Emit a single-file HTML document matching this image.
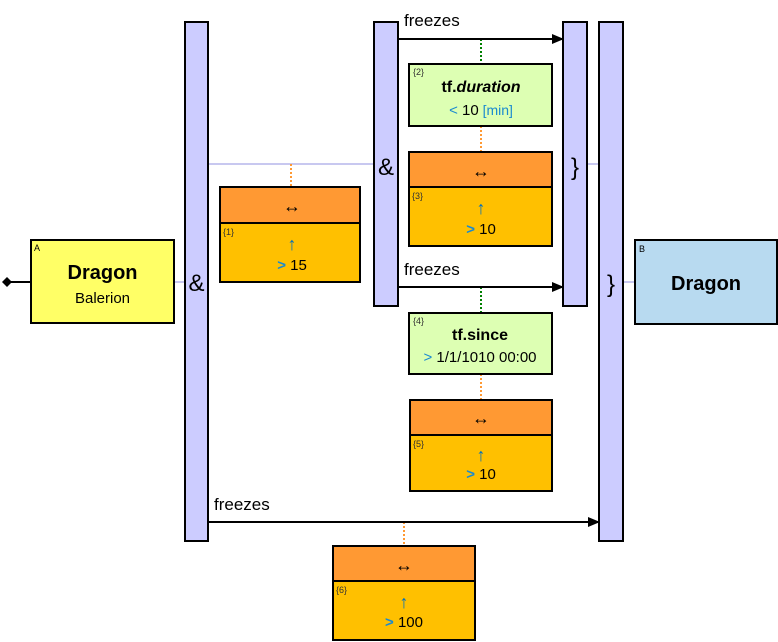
<!DOCTYPE html>
<html><head><meta charset="utf-8"><style>
html,body{margin:0;padding:0;background:#fff;width:778px;height:642px;overflow:hidden}
svg text{font-family:"Liberation Sans",sans-serif}
</style></head><body>
<svg width="778" height="642" xmlns="http://www.w3.org/2000/svg">
<defs><marker id="ah" markerWidth="12" markerHeight="10" refX="11" refY="5" orient="auto" markerUnits="userSpaceOnUse"><path d="M0,0 L12,5 L0,10 z" fill="#000"/></marker></defs>
<!-- thin connectors -->
<line x1="208" y1="164" x2="374" y2="164" stroke="#c8c8f0" stroke-width="2"/>
<line x1="587" y1="164" x2="599" y2="164" stroke="#c8c8f0" stroke-width="2"/>
<line x1="174" y1="282" x2="185" y2="282" stroke="#c8c8f0" stroke-width="2"/>
<line x1="623" y1="282" x2="635" y2="282" stroke="#c8c8f0" stroke-width="2"/>
<line x1="8" y1="282" x2="31" y2="282" stroke="#000" stroke-width="2"/>
<path d="M2,282 L7,277 L12,282 L7,287z" fill="#000"/>
<!-- dotted -->
<g stroke-width="2" stroke-dasharray="2,2">
<line x1="291" y1="164" x2="291" y2="187" stroke="#ff9933"/>
<line x1="481" y1="39" x2="481" y2="64" stroke="#008000"/>
<line x1="481" y1="126" x2="481" y2="152" stroke="#ff9933"/>
<line x1="481" y1="287" x2="481" y2="313" stroke="#008000"/>
<line x1="481" y1="374" x2="481" y2="400" stroke="#ff9933"/>
<line x1="404" y1="522" x2="404" y2="546" stroke="#ff9933"/>
</g>
<!-- bars -->
<g fill="#ccccff" stroke="#000" stroke-width="2">
<rect x="185" y="22" width="23" height="519"/>
<rect x="374" y="22" width="24" height="284"/>
<rect x="563" y="22" width="24" height="284"/>
<rect x="599" y="22" width="24" height="519"/>
</g>
<text x="196.5" y="291" font-size="24" text-anchor="middle">&amp;</text>
<text x="386" y="175" font-size="24" text-anchor="middle">&amp;</text>
<text x="575" y="175" font-size="24" text-anchor="middle">}</text>
<text x="611" y="292" font-size="24" text-anchor="middle">}</text>
<!-- arrows -->
<g stroke="#000" stroke-width="2">
<line x1="398" y1="39" x2="563" y2="39" marker-end="url(#ah)"/>
<line x1="398" y1="287" x2="563" y2="287" marker-end="url(#ah)"/>
<line x1="208" y1="522" x2="599" y2="522" marker-end="url(#ah)"/>
</g>
<text x="404" y="26" font-size="17">freezes</text>
<text x="404" y="275" font-size="17">freezes</text>
<text x="214" y="510" font-size="17">freezes</text>
<!-- A and B -->
<rect x="31" y="240" width="143" height="83" fill="#ffff66" stroke="#000" stroke-width="2"/>
<text x="34" y="251" font-size="9">A</text>
<text x="102.5" y="279" font-size="20" font-weight="bold" text-anchor="middle">Dragon</text>
<text x="102.5" y="303" font-size="15" text-anchor="middle">Balerion</text>
<rect x="635" y="240" width="142" height="84" fill="#b8daf0" stroke="#000" stroke-width="2"/>
<text x="639" y="252" font-size="9">B</text>
<text x="706" y="290" font-size="20" font-weight="bold" text-anchor="middle">Dragon</text>
<!-- green boxes -->
<rect x="409" y="64" width="143" height="62" fill="#ddffb3" stroke="#000" stroke-width="2"/>
<text x="413" y="75" font-size="9" fill="#333">{2}</text>
<text x="481" y="92" font-size="16" font-weight="bold" text-anchor="middle">tf.<tspan font-style="italic">duration</tspan></text>
<text x="481" y="115" font-size="15" text-anchor="middle"><tspan fill="#1a8ad0">&lt; </tspan>10<tspan fill="#1a8ad0" font-size="14"> [min]</tspan></text>
<rect x="409" y="313" width="143" height="61" fill="#ddffb3" stroke="#000" stroke-width="2"/>
<text x="413" y="324" font-size="9" fill="#333">{4}</text>
<text x="480" y="340" font-size="16" font-weight="bold" text-anchor="middle">tf.since</text>
<text x="480" y="362" font-size="15" text-anchor="middle"><tspan fill="#1a8ad0">&gt; </tspan>1/1/1010 00:00</text>
<!-- orange boxes -->
<g id="ob">
</g>
<g stroke="#000" stroke-width="2">
<rect x="220" y="187" width="140" height="36" fill="#ff9933"/><rect x="220" y="223" width="140" height="59" fill="#ffc000"/>
<rect x="409" y="152" width="143" height="35" fill="#ff9933"/><rect x="409" y="187" width="143" height="59" fill="#ffc000"/>
<rect x="410" y="400" width="142" height="35" fill="#ff9933"/><rect x="410" y="435" width="142" height="56" fill="#ffc000"/>
<rect x="333" y="546" width="142" height="35" fill="#ff9933"/><rect x="333" y="581" width="142" height="59" fill="#ffc000"/>
</g>
<g font-size="18" text-anchor="middle">
<text x="292" y="212">↔</text><text x="481" y="177">↔</text><text x="481" y="424">↔</text><text x="404" y="571">↔</text>
</g>
<g font-size="9" fill="#333">
<text x="223" y="235">{1}</text><text x="412" y="199">{3}</text><text x="413" y="447">{5}</text><text x="336" y="593">{6}</text>
</g>
<g fill="#0070c0" font-size="18" font-weight="bold" text-anchor="middle">
<text x="292" y="250">↑</text><text x="481" y="214">↑</text><text x="481" y="461">↑</text><text x="404" y="608">↑</text>
</g>
<g font-size="15" text-anchor="middle">
<text x="292" y="270"><tspan fill="#1a8ad0" font-weight="bold">&gt; </tspan>15</text>
<text x="481" y="234"><tspan fill="#1a8ad0" font-weight="bold">&gt; </tspan>10</text>
<text x="481" y="479"><tspan fill="#1a8ad0" font-weight="bold">&gt; </tspan>10</text>
<text x="404" y="627"><tspan fill="#1a8ad0" font-weight="bold">&gt; </tspan>100</text>
</g>
</svg>
</body></html>
